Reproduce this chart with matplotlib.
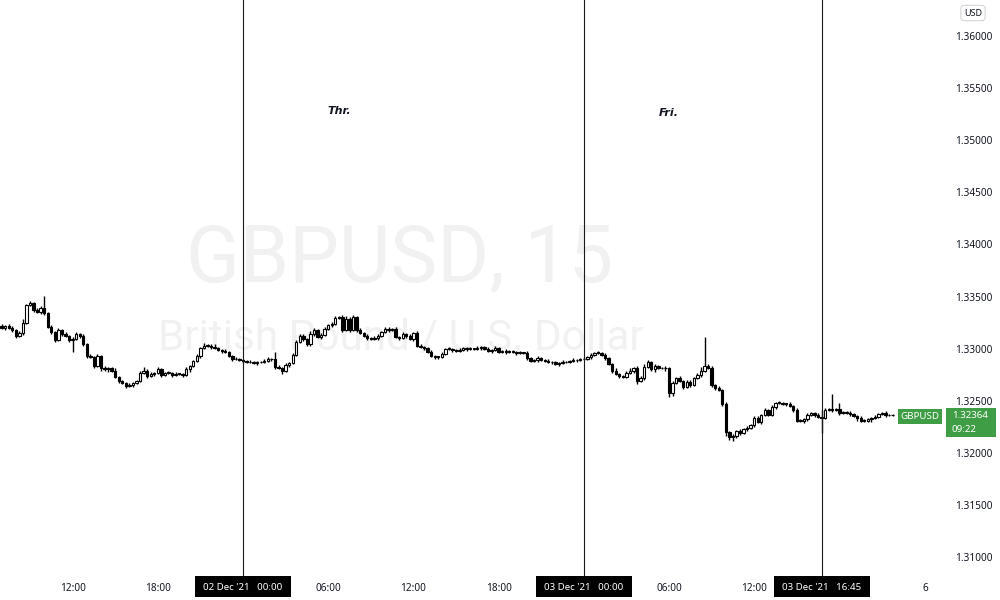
import numpy as np
import pandas as pd
import matplotlib
matplotlib.use("Agg")
import matplotlib.pyplot as plt
from matplotlib.patches import Rectangle
from matplotlib.transforms import blended_transform_factory

plt.rcParams['font.family'] = ['Noto Sans', 'DejaVu Sans']

# ---------------- data (GBPUSD, 15 min) ----------------
start_time = '2021-12-01 07:00'
first_open = 1.3322
close = [
    1.3320, 1.3322, 1.3320, 1.3318, 1.3312, 1.3315, 1.3325, 1.3342, 1.3344, 1.3337, 1.3335, 1.3339,
    1.3334, 1.3321, 1.3316, 1.3308, 1.3318, 1.3314, 1.3312, 1.3308, 1.3309, 1.3314, 1.3312, 1.3304,
    1.3293, 1.3292, 1.3283, 1.3293, 1.3281, 1.3280, 1.3281, 1.3279, 1.3273, 1.3269, 1.3267, 1.3264,
    1.3265, 1.3267, 1.3269, 1.3277, 1.3279, 1.3274, 1.3276, 1.3277, 1.3280, 1.3275, 1.3277, 1.3277,
    1.3275, 1.3276, 1.3276, 1.3275, 1.3280, 1.3283, 1.3288, 1.3293, 1.3301, 1.3303, 1.3303, 1.3302,
    1.3301, 1.3299, 1.3298, 1.3297, 1.3293, 1.3290, 1.3290, 1.3289, 1.3288, 1.3287, 1.3287, 1.3286,
    1.3287, 1.3287, 1.3288, 1.3290, 1.3290, 1.3282, 1.3281, 1.3279, 1.3284, 1.3286, 1.3294, 1.3306,
    1.3312, 1.3309, 1.3304, 1.3314, 1.3318, 1.3311, 1.3313, 1.3319, 1.3323, 1.3324, 1.3329, 1.3330,
    1.3318, 1.3328, 1.3318, 1.3330, 1.3318, 1.3315, 1.3312, 1.3310, 1.3309, 1.3310, 1.3312, 1.3316,
    1.3319, 1.3318, 1.3319, 1.3311, 1.3310, 1.3314, 1.3312, 1.3309, 1.3315, 1.3303, 1.3302, 1.3301,
    1.3297, 1.3293, 1.3292, 1.3292, 1.3295, 1.3300, 1.3300, 1.3299, 1.3298, 1.3299, 1.3301, 1.3300,
    1.3300, 1.3300, 1.3301, 1.3302, 1.3300, 1.3298, 1.3299, 1.3301, 1.3297, 1.3298, 1.3297, 1.3298,
    1.3297, 1.3296, 1.3296, 1.3296, 1.3291, 1.3288, 1.3289, 1.3291, 1.3289, 1.3288, 1.3287, 1.3287,
    1.3285, 1.3286, 1.3287, 1.3287, 1.3288, 1.3289, 1.3289, 1.3290, 1.3290, 1.3292, 1.3294, 1.3296,
    1.3296, 1.3294, 1.3291, 1.3285, 1.3279, 1.3276, 1.3274, 1.3273, 1.3277, 1.3279, 1.3281, 1.3269,
    1.3272, 1.3282, 1.3287, 1.3280, 1.3283, 1.3281, 1.3281, 1.3281, 1.3257, 1.3267, 1.3272, 1.3269,
    1.3263, 1.3268, 1.3265, 1.3272, 1.3275, 1.3279, 1.3283, 1.3281, 1.3265, 1.3262, 1.3260, 1.3247,
    1.3220, 1.3215, 1.3216, 1.3221, 1.3219, 1.3223, 1.3224, 1.3227, 1.3233, 1.3230, 1.3236, 1.3241,
    1.3236, 1.3244, 1.3248, 1.3248, 1.3247, 1.3247, 1.3245, 1.3241, 1.3231, 1.3231, 1.3232, 1.3236,
    1.3238, 1.3236, 1.3234, 1.3233, 1.3241, 1.3242, 1.3241, 1.3242, 1.3238, 1.3239, 1.3238, 1.3237,
    1.3235, 1.3233, 1.3231, 1.3231, 1.3232, 1.3233, 1.3234, 1.3237, 1.3238, 1.3236, 1.3236, 1.32364,
]
upper_wick_pips = [
    2, 1, 2, 2, 1, 2, 3, 1, 2, 1, 2, 2,
    12, 1, 2, 1, 2, 1, 2, 1, 2, 2, 1, 2,
    1, 2, 1, 2, 1, 2, 1, 1, 2, 1, 1, 1,
    2, 1, 1, 2, 3, 1, 2, 1, 2, 1, 1, 2,
    1, 2, 1, 1, 2, 1, 1, 2, 1, 2, 1, 1,
    2, 1, 1, 2, 1, 1, 2, 1, 1, 1, 2, 1,
    1, 1, 2, 2, 1, 7, 2, 1, 2, 1, 2, 2,
    2, 2, 1, 3, 2, 1, 2, 2, 1, 2, 2, 1,
    2, 3, 2, 2, 1, 2, 1, 2, 1, 2, 2, 1,
    2, 2, 1, 2, 1, 2, 1, 2, 1, 2, 1, 1,
    1, 2, 1, 1, 2, 1, 2, 1, 1, 2, 1, 1,
    2, 1, 2, 1, 1, 2, 1, 2, 1, 1, 2, 1,
    1, 1, 2, 1, 2, 1, 1, 2, 1, 1, 2, 1,
    1, 1, 2, 1, 1, 2, 1, 1, 2, 1, 2, 1,
    2, 1, 2, 1, 1, 2, 1, 1, 2, 2, 1, 2,
    2, 3, 2, 1, 2, 1, 1, 2, 1, 2, 1, 2,
    1, 2, 2, 1, 2, 3, 28, 2, 2, 1, 2, 1,
    2, 1, 2, 1, 2, 1, 2, 1, 2, 2, 1, 2,
    1, 2, 1, 2, 1, 1, 2, 1, 2, 1, 1, 2,
    1, 1, 2, 7, 2, 1, 14, 1, 6, 1, 1, 2,
    1, 1, 2, 1, 1, 1, 2, 1, 1, 2, 1, 1,
]
lower_wick_pips = [
    1, 2, 1, 2, 2, 1, 2, 1, 1, 2, 1, 2,
    2, 1, 2, 2, 1, 2, 1, 2, 11, 1, 2, 1,
    2, 1, 2, 1, 2, 1, 2, 1, 1, 2, 1, 2,
    1, 2, 1, 1, 1, 2, 1, 2, 1, 2, 1, 1,
    2, 1, 1, 2, 1, 2, 1, 1, 2, 1, 1, 2,
    1, 1, 2, 1, 1, 2, 1, 1, 2, 1, 1, 1,
    2, 1, 1, 1, 2, 2, 1, 3, 1, 2, 1, 1,
    1, 2, 1, 1, 2, 1, 2, 1, 1, 2, 1, 1,
    2, 1, 2, 1, 2, 1, 1, 2, 1, 1, 2, 1,
    1, 2, 1, 1, 2, 1, 2, 1, 2, 1, 1, 2,
    1, 1, 2, 2, 1, 1, 1, 2, 1, 1, 1, 2,
    1, 1, 1, 2, 1, 1, 2, 1, 1, 1, 2, 1,
    1, 2, 1, 1, 2, 1, 1, 2, 1, 1, 1, 2,
    1, 2, 1, 1, 1, 1, 2, 1, 1, 1, 2, 1,
    1, 1, 2, 1, 2, 1, 2, 1, 1, 1, 2, 3,
    1, 2, 1, 1, 2, 1, 1, 2, 3, 2, 1, 1,
    2, 1, 2, 1, 1, 2, 1, 1, 2, 2, 1, 2,
    4, 3, 4, 2, 2, 1, 2, 1, 2, 1, 2, 1,
    1, 1, 2, 1, 1, 2, 1, 2, 1, 1, 2, 1,
    1, 2, 1, 14, 1, 1, 2, 1, 2, 1, 1, 2,
    1, 2, 1, 1, 1, 2, 1, 1, 1, 2, 1, 1,
]
price_ticks = [1.31, 1.315, 1.32, 1.325, 1.33, 1.335, 1.34, 1.345, 1.35, 1.355, 1.36]
time_tick_times = ['2021-12-01 12:00', '2021-12-01 18:00', '2021-12-02 06:00', '2021-12-02 12:00',
                   '2021-12-02 18:00', '2021-12-03 06:00', '2021-12-03 12:00']
time_tick_labels = ['12:00', '18:00', '06:00', '12:00', '18:00', '06:00', '12:00']
monday_label = '6'
marker_times = ['2021-12-02 00:00', '2021-12-03 00:00', '2021-12-03 16:45']
marker_labels = ["02 Dec '21   00:00", "03 Dec '21   00:00", "03 Dec '21   16:45"]
day_notes = [('Thr.', '2021-12-02 06:45', 1.35280), ('Fri.', '2021-12-03 06:00', 1.35261)]
symbol = 'GBPUSD'
last_price_text = '1.32364'
countdown_text = '09:22'

# ---------------- derived ----------------
times = pd.date_range(start_time, periods=len(close), freq='15min')
idx = np.arange(len(close))
c = np.array(close)
o = np.concatenate([[first_open], c[:-1]])
hi = np.maximum(o, c) + np.array(upper_wick_pips) / 1e4
lo = np.minimum(o, c) - np.array(lower_wick_pips) / 1e4


def t2i(t):
    return float(times.get_loc(pd.Timestamp(t)))


# ---------------- figure ----------------
W, H = 1000, 600
AX_R, AX_B = 945, 576           # plot area right / bottom in pixels
fig = plt.figure(figsize=(W / 100, H / 100), dpi=100)
fig.patch.set_facecolor('white')
ax = fig.add_axes([0, (H - AX_B) / H, AX_R / W, AX_B / H])
ax.set_facecolor('white')
for s in ax.spines.values():
    s.set_visible(False)

px_per_bar = 3.55
x0_px = 1.6
ax.set_xlim((0 - x0_px) / px_per_bar, (AX_R - x0_px) / px_per_bar)
ax.set_ylim(1.30818, 1.36346)

TXT = '#131722'

# watermark
ax.text(400 / AX_R, (AX_B - 281) / AX_B, 'GBPUSD, 15', transform=ax.transAxes,
        ha='center', va='baseline', fontsize=57, color='#f1f1f2', family='Roboto', zorder=0)
ax.text(401 / AX_R, (AX_B - 350) / AX_B, 'British Pound / U.S. Dollar', transform=ax.transAxes,
        ha='center', va='baseline', fontsize=30.5, color='#f1f1f2', family='Roboto', zorder=0)

# candles
ax.vlines(idx, lo, hi, color='#000000', lw=1.0, zorder=2)
up = c >= o
body_bottom = np.minimum(o, c)
body_h = np.maximum(np.abs(c - o), 0.00005)
faces = np.where(up, '#ffffff', '#000000')
ax.bar(idx, body_h, bottom=body_bottom, width=0.66, color=faces, edgecolor='#000000',
       linewidth=0.8, zorder=3)

# vertical markers
for t in marker_times:
    ax.axvline(t2i(t), color='#1a1a1a', lw=0.8, zorder=4)

# day notes
for txt, t, p in day_notes:
    ax.text(t2i(t), p, txt, ha='center', va='center', fontsize=8, fontweight='bold',
            fontstyle='italic', color=TXT, family='DejaVu Sans')

# price axis
ax.yaxis.tick_right()
ax.set_yticks(price_ticks)
ax.set_yticklabels([f'{v:.5f}' for v in price_ticks])
ax.tick_params(axis='y', length=0, pad=7, labelsize=7.2, labelcolor=TXT)

# time axis
ax.set_xticks([t2i(t) for t in time_tick_times] + [(925 - x0_px) / px_per_bar])
ax.set_xticklabels(time_tick_labels + [monday_label])
ax.tick_params(axis='x', length=0, pad=5, labelsize=7.2, labelcolor=TXT)

# date marker boxes at bottom
bt = blended_transform_factory(ax.transData, fig.transFigure)
box_w = 96 / px_per_bar
for t, lab in zip(marker_times, marker_labels):
    xi = t2i(t)
    ax.add_patch(Rectangle((xi - box_w / 2, (H - 597) / H), box_w, 21 / H, transform=bt,
                           facecolor='#000000', edgecolor='none', clip_on=False, zorder=6))
    ax.text(xi, (H - 587) / H, lab, transform=bt, ha='center', va='center', fontsize=7,
            color='white', clip_on=False, zorder=7)

# USD box
fig.text(973 / W, 1 - 13 / H, 'USD', ha='center', va='center', fontsize=6.5, color=TXT,
         bbox=dict(boxstyle='round,pad=0.35', fc='white', ec='#d6d6d6', lw=0.8))

# last price labels
GREEN = '#3f9d45'
fig.add_artist(Rectangle((898 / W, 1 - 424 / H), 44 / W, 15 / H, transform=fig.transFigure,
                         facecolor=GREEN, edgecolor='none', zorder=5))
fig.text(920 / W, 1 - 416.5 / H, symbol, ha='center', va='center', fontsize=7, color='white', zorder=6)
fig.add_artist(Rectangle((946 / W, 1 - 437 / H), 50 / W, 29 / H, transform=fig.transFigure,
                         facecolor=GREEN, edgecolor='none', zorder=5))
fig.text(952 / W, 1 - 416 / H, last_price_text, ha='left', va='center', fontsize=7, color='white', zorder=6)
fig.text(952 / W, 1 - 430 / H, countdown_text, ha='left', va='center', fontsize=7, color='white', zorder=6)

fig.savefig('out.png', dpi=100, facecolor='white')
